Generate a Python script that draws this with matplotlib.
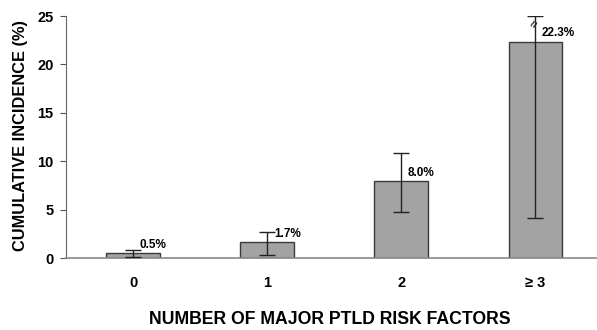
import matplotlib
matplotlib.use("Agg")
import matplotlib.pyplot as plt

categories = ["0", "1", "2", "\u2265 3"]
values = [0.5, 1.7, 8.0, 22.3]
upper = [0.85, 2.7, 10.9, 25.0]
lower = [0.1, 0.35, 4.8, 4.1]
labels = ["0.5%", "1.7%", "8.0%", "22.3%"]

plt.rcParams['font.family'] = ['Liberation Sans', 'DejaVu Sans']
fig = plt.figure(figsize=(5.97, 3.30), dpi=100)
ax = fig.add_axes([0.1106, 0.218, 0.8894, 0.7333])

x = list(range(len(categories)))
ax.bar(x, values, width=0.4, color="#a3a3a3", edgecolor="#3a3a3a", linewidth=1.0, zorder=2)
yerr = [[v - l for v, l in zip(values, lower)], [u - v for v, u in zip(values, upper)]]
ax.errorbar(x, values, yerr=yerr, fmt="none", ecolor="#222222", elinewidth=1.0,
            capsize=5.5, capthick=1.0, zorder=3)

for xi, v, lab in zip(x, values, labels):
    dy = 1.0 if xi == 3 else 0.8
    ax.text(xi + 0.05, v + dy, lab, fontsize=8.5, fontweight="bold", ha="left", va="center")

# small break mark on the last error bar
ax.text(3, 24.1, "\u2248", fontsize=9, ha="center", va="center", rotation=60,
        color="#222222", fontweight="bold", zorder=4)

ax.set_xlim(-0.5, 3.46)
ax.set_ylim(0, 25)
ax.set_yticks([0, 5, 10, 15, 20, 25])
ax.set_xticks(x)
ax.set_xticklabels(categories)
for lbl in ax.get_xticklabels() + ax.get_yticklabels():
    lbl.set_fontweight("bold")
    lbl.set_fontsize(10.5)
ax.tick_params(axis="x", length=0, pad=13)
ax.tick_params(axis="y", length=4, width=0.8, color="#555555", pad=5, direction="out")
ax.spines["top"].set_visible(False)
ax.spines["right"].set_visible(False)
ax.spines["left"].set_color("#666666")
ax.spines["bottom"].set_color("#888888")
ax.spines["bottom"].set_linewidth(1.2)
ax.set_ylabel("CUMULATIVE INCIDENCE (%)", fontsize=11.8, fontweight="bold", va="center")
ax.yaxis.set_label_coords(-0.0866, 0.505)
ax.set_xlabel("NUMBER OF MAJOR PTLD RISK FACTORS", fontsize=12.7, fontweight="bold", va="center")
ax.xaxis.set_label_coords(0.496, -0.252)

fig.savefig("out.png", dpi=100)
